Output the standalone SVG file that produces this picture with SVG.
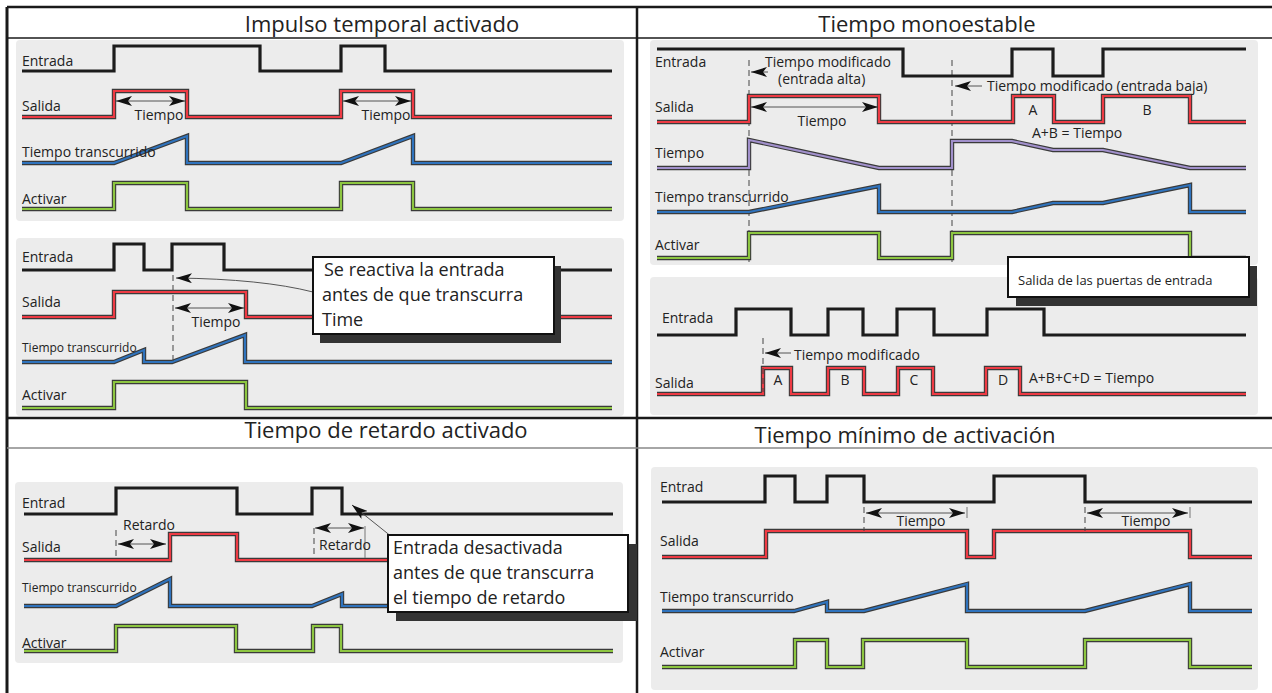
<svg xmlns="http://www.w3.org/2000/svg" xmlns:xlink="http://www.w3.org/1999/xlink" width="1272" height="693" viewBox="0 0 1272 693">
<style>
text{font-family:"Open Sans","Noto Sans","DejaVu Sans",sans-serif;fill:#222}
.t{font-size:22px;text-anchor:middle}
.l{font-size:14px}
.s{font-size:12px}
.m{text-anchor:middle}
.c{font-size:18px}
.bg{fill:#ececec}
.frame{fill:none;stroke:#1a1a1a}
.ol{fill:none;stroke:#3a3a3a;stroke-width:4.4}
.k{fill:none;stroke:#1c1c1c;stroke-width:3.2}
.r{fill:none;stroke:#ee3b44;stroke-width:2.2}
.b{fill:none;stroke:#2f73bd;stroke-width:2.2}
.g{fill:none;stroke:#8dc641;stroke-width:2.2}
.p{fill:none;stroke:#a190cb;stroke-width:2.2}
.dash{fill:none;stroke:#444;stroke-width:1;stroke-dasharray:6 4}
.tick{fill:none;stroke:#777;stroke-width:1}
.arr{fill:none;stroke:#444;stroke-width:0.9;marker-start:url(#ah);marker-end:url(#ah)}
.arr1{fill:none;stroke:#444;stroke-width:0.9;marker-end:url(#ah)}
.box{fill:#fff;stroke:#111;stroke-width:2}
.sh{fill:#333}
</style>
<defs>
<marker id="ah" viewBox="0 0 16 10" refX="16" refY="5" markerWidth="16" markerHeight="10" markerUnits="userSpaceOnUse" orient="auto-start-reverse">
<path d="M0,0 L16,5 L0,10 L4,5 Z" fill="#111"/>
</marker>
<path id="S1" d="M22,117 H114 V91 H187 V117 H341 V91 H413 V117 H612"/>
<path id="T1" d="M22,163 H114 L187,136 V163 H341 L413,136 V163 H612"/>
<path id="A1" d="M22,209 H114 V183 H187 V209 H341 V183 H413 V209 H612"/>
<path id="S2" d="M22,317 H114 V292 H246 V317 H612"/>
<path id="T2" d="M22,362 H114 L144,350 V362 H172 L245,335 V362 H612"/>
<path id="A2" d="M22,408 H114 V382 H246 V408 H612"/>
<path id="S3" d="M24,560 H170 V534 H237 V560 H613"/>
<path id="T3" d="M24,606 H116 L170,579 V606 H312 L342,594 V606 H613"/>
<path id="A3" d="M24,651 H116 V626 H236 V651 H313 V626 H341 V651 H613"/>
<path id="S4" d="M657,122 H749 V96 H879 V122 H1013 V96 H1054 V122 H1103 V96 H1190 V122 H1246"/>
<path id="P4" d="M657,168 H749 V140 L879,168 H952 V141 H1012 L1053,150 H1103 L1190,168 H1246"/>
<path id="T4" d="M657,212 H749 L879,186 V212 H1012 L1053,203 H1103 L1190,185 V212 H1246"/>
<path id="A4" d="M657,258 H749 V233 H879 V258 H952 V233 H1190 V258 H1246"/>
<path id="S5" d="M657,394 H763 V368 H791 V394 H828 V368 H864 V394 H898 V368 H933 V394 H986 V368 H1020 V394 H1246"/>
<path id="S6" d="M662,557 H766 V531 H967 V557 H994 V531 H1190 V557 H1252"/>
<path id="T6" d="M662,611 H794 L827,602 V611 H864 L967,584 V611 H1085 L1190,584 V611 H1252"/>
<path id="A6" d="M662,667 H795 V640 H827 V667 H863 V640 H967 V667 H1085 V640 H1190 V667 H1252"/>
</defs>
<rect width="1272" height="693" fill="#fff"/>

<g id="frame">
<path class="frame" d="M7,7 H1272" stroke-width="2.5"/>
<path class="frame" d="M7,7 V693" stroke-width="3"/>
<path class="frame" d="M637,7 V693" stroke-width="2.5"/>
<path class="frame" d="M7,418 H1272" stroke-width="2.5"/>
<path class="frame" d="M7,38 H1272" stroke-width="1.3"/>
<path d="M7,448 H1272" fill="none" stroke="#888" stroke-width="1.5"/>
<text class="t" x="382" y="32">Impulso temporal activado</text>
<text class="t" x="927" y="32">Tiempo monoestable</text>
<text class="t" x="386" y="438">Tiempo de retardo activado</text>
<text class="t" x="905" y="443">Tiempo mínimo de activación</text>
</g>

<g id="impulso-1">
<rect class="bg" x="16" y="40" width="608" height="181" rx="4"/>
<path class="k" d="M22,71 H114 V46 H260 V71 H341 V46 H385 V71 H612"/>
<use href="#S1" class="ol"/><use href="#S1" class="r"/>
<use href="#T1" class="ol"/><use href="#T1" class="b"/>
<use href="#A1" class="ol"/><use href="#A1" class="g"/>
<text class="l" x="22" y="66">Entrada</text>
<text class="l" x="22" y="111">Salida</text>
<text class="l" x="22" y="157">Tiempo transcurrido</text>
<text class="l" x="22" y="204">Activar</text>
<path class="arr" d="M116,101 H185"/>
<path class="arr" d="M343,101 H411"/>
<text class="l m" x="159" y="120">Tiempo</text>
<text class="l m" x="386" y="120">Tiempo</text>
</g>

<g id="impulso-2">
<rect class="bg" x="16" y="238" width="608" height="178" rx="4"/>
<path class="k" d="M22,270 H114 V244 H144 V270 H172 V244 H224 V270 H612"/>
<use href="#S2" class="ol"/><use href="#S2" class="r"/>
<use href="#T2" class="ol"/><use href="#T2" class="b"/>
<use href="#A2" class="ol"/><use href="#A2" class="g"/>
<text class="l" x="22" y="262">Entrada</text>
<text class="l" x="22" y="307">Salida</text>
<text class="s" x="22" y="352">Tiempo transcurrido</text>
<text class="l" x="22" y="400">Activar</text>
<path class="dash" d="M173,275 V362"/>
<path class="arr" d="M175,308 H244"/>
<text class="l m" x="216" y="327">Tiempo</text>
<path class="arr1" d="M313,292 Q262,279 176,278"/>
<rect class="sh" x="320" y="266" width="241" height="77"/>
<rect class="box" x="313" y="257" width="241" height="77"/>
<text class="c" x="324" y="276">Se reactiva la entrada</text>
<text class="c" x="322" y="301">antes de que transcurra</text>
<text class="c" x="322" y="326">Time</text>
</g>

<g id="retardo">
<rect class="bg" x="15" y="482" width="608" height="181" rx="4"/>
<path class="k" d="M24,514 H116 V488 H237 V514 H312 V488 H342 V514 H613"/>
<use href="#S3" class="ol"/><use href="#S3" class="r"/>
<use href="#T3" class="ol"/><use href="#T3" class="b"/>
<use href="#A3" class="ol"/><use href="#A3" class="g"/>
<text class="l" x="22" y="508">Entrad</text>
<text class="l" x="22" y="552">Salida</text>
<text class="s" x="22" y="592">Tiempo transcurrido</text>
<text class="l" x="22" y="648">Activar</text>
<path class="dash" d="M116,530 V558"/>
<path class="dash" d="M314,528 V558"/>
<path class="tick" d="M365,526 V558"/>
<path class="arr" d="M118,544 H166"/>
<path class="arr" d="M315,528 H364"/>
<text class="l m" x="149" y="530">Retardo</text>
<text class="l m" x="345" y="550">Retardo</text>
<path class="arr1" d="M392,537 L352,505"/>
<rect class="sh" x="396" y="544" width="241" height="77"/>
<rect class="box" x="388" y="535" width="240" height="77"/>
<text class="c" x="393" y="554">Entrada desactivada</text>
<text class="c" x="393" y="579">antes de que transcurra</text>
<text class="c" x="393" y="604">el tiempo de retardo</text>
</g>

<g id="monoestable-1">
<rect class="bg" x="650" y="40" width="608" height="225" rx="4"/>
<path class="dash" d="M749,60 V262"/>
<path class="dash" d="M952,60 V262"/>
<path class="k" d="M657,49 H903 V76 H1012 V49 H1053 V76 H1103 V49 H1246"/>
<use href="#S4" class="ol"/><use href="#S4" class="r"/>
<use href="#P4" class="ol"/><use href="#P4" class="p"/>
<use href="#T4" class="ol"/><use href="#T4" class="b"/>
<use href="#A4" class="ol"/><use href="#A4" class="g"/>
<text class="l" x="655" y="67">Entrada</text>
<text class="l" x="655" y="112">Salida</text>
<text class="l" x="655" y="158">Tiempo</text>
<text class="l" x="655" y="202">Tiempo transcurrido</text>
<text class="l" x="655" y="250">Activar</text>
<path class="arr1" d="M768,72 L751,72"/>
<text class="l" x="765" y="67">Tiempo modificado</text>
<text class="l" x="778" y="84">(entrada alta)</text>
<path class="arr1" d="M982,86 L955,86"/>
<text class="l" x="987" y="91">Tiempo modificado (entrada baja)</text>
<path class="arr" d="M751,107 H878"/>
<text class="l m" x="822" y="126">Tiempo</text>
<text class="l m" x="1033" y="115">A</text>
<text class="l m" x="1147" y="115">B</text>
<text class="l" x="1032" y="138">A+B = Tiempo</text>
</g>

<g id="monoestable-2">
<rect class="bg" x="650" y="277" width="608" height="138" rx="4"/>
<path class="k" d="M657,335 H736 V309 H791 V335 H828 V309 H863 V335 H897 V309 H934 V335 H987 V309 H1044 V335 H1246"/>
<use href="#S5" class="ol"/><use href="#S5" class="r"/>
<path class="dash" d="M763,338 V392"/>
<text class="l" x="662" y="323">Entrada</text>
<text class="l" x="655" y="388">Salida</text>
<path class="arr1" d="M791,353 L765,353"/>
<text class="l" x="794" y="360">Tiempo modificado</text>
<text class="l m" x="778" y="385">A</text>
<text class="l m" x="845" y="385">B</text>
<text class="l m" x="914" y="385">C</text>
<text class="l m" x="1003" y="385">D</text>
<text class="l" x="1029" y="383">A+B+C+D = Tiempo</text>
</g>

<g id="callout-puertas">
<rect class="sh" x="1016" y="266" width="241" height="40"/>
<rect class="box" x="1008" y="257" width="241" height="40"/>
<text x="1018" y="285" font-size="13">Salida de las puertas de entrada</text>
</g>

<g id="minimo">
<rect class="bg" x="651" y="467" width="607" height="223" rx="4"/>
<path class="k" d="M662,502 H765 V476 H795 V502 H827 V476 H864 V502 H994 V476 H1085 V502 H1252"/>
<use href="#S6" class="ol"/><use href="#S6" class="r"/>
<use href="#T6" class="ol"/><use href="#T6" class="b"/>
<use href="#A6" class="ol"/><use href="#A6" class="g"/>
<text class="l" x="660" y="492">Entrad</text>
<text class="l" x="660" y="546">Salida</text>
<text class="l" x="660" y="602">Tiempo transcurrido</text>
<text class="l" x="660" y="657">Activar</text>
<path class="dash" d="M864,507 V531"/>
<path class="tick" d="M967,507 V518"/>
<path class="dash" d="M1085,507 V531"/>
<path class="tick" d="M1190,507 V518"/>
<path class="arr" d="M866,513 H965"/>
<path class="arr" d="M1087,513 H1188"/>
<text class="l m" x="921" y="526">Tiempo</text>
<text class="l m" x="1146" y="526">Tiempo</text>
</g>
</svg>
